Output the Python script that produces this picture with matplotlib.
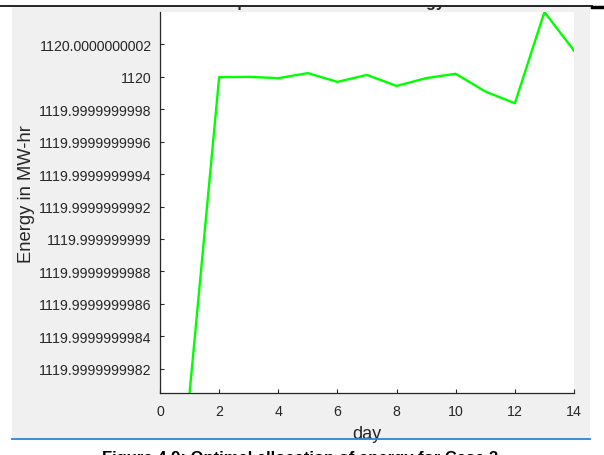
import matplotlib
matplotlib.use("Agg")
import matplotlib.pyplot as plt
from matplotlib.patches import Rectangle
from matplotlib.lines import Line2D
from matplotlib.transforms import Bbox, TransformedBbox

# ---- data ----
days = [1, 2, 3, 4, 5, 6, 7, 8, 9, 10, 11, 12, 13, 14]
# energy minus 1120 MW-hr, in units of 1e-10 MW-hr
energy_offset_e10 = [-19.5, -0.02, 0.0, -0.08, 0.23, -0.31, 0.12, -0.56,
                     -0.08, 0.19, -0.9, -1.63, 4.0, 1.62]
ytick_pos = [-18, -16, -14, -12, -10, -8, -6, -4, -2, 0, 2]
ytick_labels = ["1119.9999999982", "1119.9999999984", "1119.9999999986",
                "1119.9999999988", "1119.999999999", "1119.9999999992",
                "1119.9999999994", "1119.9999999996", "1119.9999999998",
                "1120", "1120.0000000002"]
xticks = [0, 2, 4, 6, 8, 10, 12, 14]
title_text = "Optimal Allocation of Energy"
caption_text = "Figure 4.9: Optimal allocation of energy for Case 3"

W, H = 604, 456
plt.rcParams["font.family"] = ["Liberation Sans", "DejaVu Sans"]
fig = plt.figure(figsize=(W / 100, H / 100), dpi=100, facecolor="white")

def fx(px):
    return px / W

def fy(py):
    return 1 - py / H

# gray figure panel
fig.patches.append(Rectangle((fx(12), fy(439)), fx(590) - fx(12), fy(8) - fy(439),
                             transform=fig.transFigure, facecolor="#f0f0f0",
                             edgecolor="none", zorder=-5))

ax = fig.add_axes([fx(160), fy(394), fx(574) - fx(160), fy(13) - fy(394)])
ax.set_zorder(1)
ax.set_facecolor("white")
ax.plot(days, energy_offset_e10, color="#00ff00", lw=1.7, clip_on=True)
ax.set_xlim(0, 14)
ax.set_ylim(-19.5, 4.0)
ax.set_xticks(xticks)
ax.set_xticklabels([str(t) for t in xticks])
ax.set_yticks(ytick_pos)
ax.set_yticklabels(ytick_labels)
for s in ["top", "right"]:
    ax.spines[s].set_visible(False)
for s in ["left", "bottom"]:
    ax.spines[s].set_color("#262626")
    ax.spines[s].set_linewidth(0.9)
ax.tick_params(direction="in", length=3, width=0.8, colors="#262626",
               labelsize=10.2, labelcolor="#262626")
ax.tick_params(axis="y", pad=6)
ax.tick_params(axis="x", pad=8)
ax.set_xlabel("day", fontsize=13, color="#262626")
ax.set_ylabel("Energy in MW-hr", fontsize=13.2, color="#262626")
ax.xaxis.set_label_coords(0.5, (394 - 426) / 381)
ax.yaxis.set_label_coords((35 - 160) / 414, (394 - 194) / 381)

# title (mostly cut off by the top of the screenshot)
t = fig.text(fx(335), fy(7.5), title_text, ha="center", va="baseline",
             fontsize=11.5, fontweight="bold", color="#262626", zorder=3)
t.set_clip_box(TransformedBbox(Bbox([[0, 0], [1, fy(7.5)]]), fig.transFigure))
t.set_clip_on(True)

fig.lines.append(Line2D([0, fx(592)], [fy(7), fy(7)], transform=fig.transFigure,
                        color="black", lw=1.2, zorder=6))
fig.lines.append(Line2D([fx(592), 1], [fy(7.5), fy(7.5)], transform=fig.transFigure,
                        color="black", lw=2.5, zorder=6))

# blue rule and caption (cut off at the bottom)
fig.lines.append(Line2D([fx(12), fx(590)], [fy(439.5), fy(439.5)],
                        transform=fig.transFigure, color="#2a82d6", lw=1.3, zorder=6))
fig.text(fx(300), fy(451), caption_text, ha="center", va="top",
         fontsize=12, fontweight="bold", color="black", zorder=3)

fig.savefig("out.png", dpi=100, facecolor="white")
